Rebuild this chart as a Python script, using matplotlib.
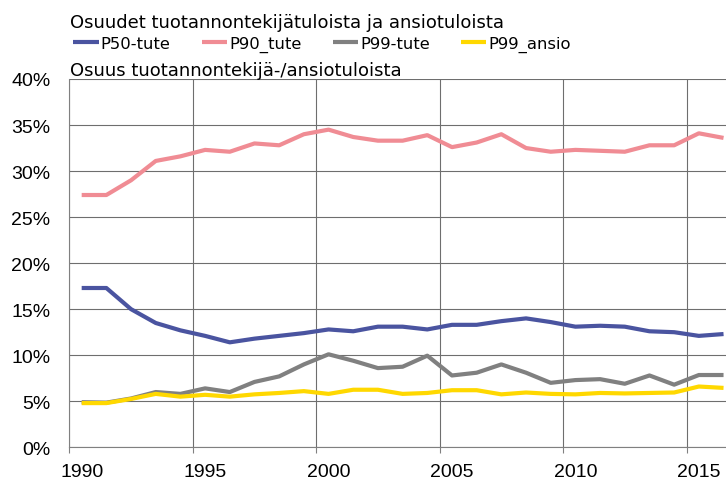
import matplotlib.pyplot as plt
import numpy as np

plt.rcParams['font.family'] = ['Liberation Sans', 'DejaVu Sans']

# Vuodet ja osuudet (%)
years = list(range(1990, 2017))
p50_tute = [17.3, 17.3, 15.0, 13.5, 12.7, 12.1, 11.4, 11.8, 12.1, 12.4, 12.8, 12.6, 13.1,
            13.1, 12.8, 13.3, 13.3, 13.7, 14.0, 13.6, 13.1, 13.2, 13.1, 12.6, 12.5, 12.1, 12.3]
p90_tute = [27.4, 27.4, 29.0, 31.1, 31.6, 32.3, 32.1, 33.0, 32.8, 34.0, 34.5, 33.7, 33.3,
            33.3, 33.9, 32.6, 33.1, 34.0, 32.5, 32.1, 32.3, 32.2, 32.1, 32.8, 32.8, 34.1, 33.6]
p99_tute = [4.9, 4.85, 5.3, 6.0, 5.8, 6.4, 6.0, 7.1, 7.7, 9.0, 10.1, 9.4, 8.6,
            8.75, 9.95, 7.8, 8.1, 9.0, 8.1, 7.0, 7.3, 7.4, 6.9, 7.8, 6.8, 7.85, 7.85]
p99_ansio = [4.8, 4.8, 5.25, 5.8, 5.5, 5.7, 5.5, 5.75, 5.9, 6.1, 5.8, 6.25, 6.25,
             5.8, 5.9, 6.2, 6.2, 5.75, 5.95, 5.8, 5.75, 5.9, 5.85, 5.9, 5.95, 6.6, 6.45]

series = [
    ('P50-tute', p50_tute, '#4a54a0'),
    ('P90_tute', p90_tute, '#f08c94'),
    ('P99-tute', p99_tute, '#808080'),
    ('P99_ansio', p99_ansio, '#ffd800'),
]

fig = plt.figure(figsize=(7.26, 4.81), dpi=100)
ax = fig.add_axes([0.0955, 0.068, 0.9045, 0.7657])

lines = []
for name, vals, col in series:
    ln, = ax.plot(years, vals, color=col, lw=3, solid_capstyle='butt', label=name)
    lines.append(ln)

ax.set_ylim(0, 40)
ax.set_xlim(1989.5, 2016.1)

# Pystyviivat luokkien väliin, vuosiluvut luokkien keskelle
ax.set_xticks(np.arange(1989.5, 2016, 5))
ax.set_xticklabels([])
ax.set_xticks(range(1990, 2016, 5), minor=True)
ax.set_xticklabels([str(y) for y in range(1990, 2016, 5)], minor=True, fontsize=14)
ax.tick_params(axis='x', which='minor', length=0, pad=11)
ax.tick_params(axis='x', which='major', length=4, color='#808080')

ax.set_yticks(range(0, 41, 5))
ax.set_yticklabels([f'{v}%' for v in range(0, 41, 5)], fontsize=14)
ax.tick_params(axis='y', length=0, pad=13.5)

ax.grid(True, which='major', color='#6e6e6e', lw=0.8)
ax.set_axisbelow(True)
for side in ['top', 'right']:
    ax.spines[side].set_visible(False)
for side in ['left', 'bottom']:
    ax.spines[side].set_color('#808080')
    ax.spines[side].set_linewidth(0.8)

# Otsikot ja selite (leveämpi kirjasin)
wide = ['DejaVu Sans']
fig.text(0.0964, 0.9424, 'Osuudet tuotannontekijätuloista ja ansiotuloista', fontsize=13,
         family=wide, ha='left', va='baseline')
fig.legend(handles=lines, loc='center left', bbox_to_anchor=(0.101, 0.906), ncol=4,
           frameon=False, prop={'family': wide, 'size': 11.8}, handlelength=1.55,
           handletextpad=0.12, columnspacing=1.9, borderaxespad=0, borderpad=0)
fig.text(0.0964, 0.8426, 'Osuus tuotannontekijä-/ansiotuloista', fontsize=13,
         family=wide, ha='left', va='baseline')

fig.savefig('out.png', dpi=100)
